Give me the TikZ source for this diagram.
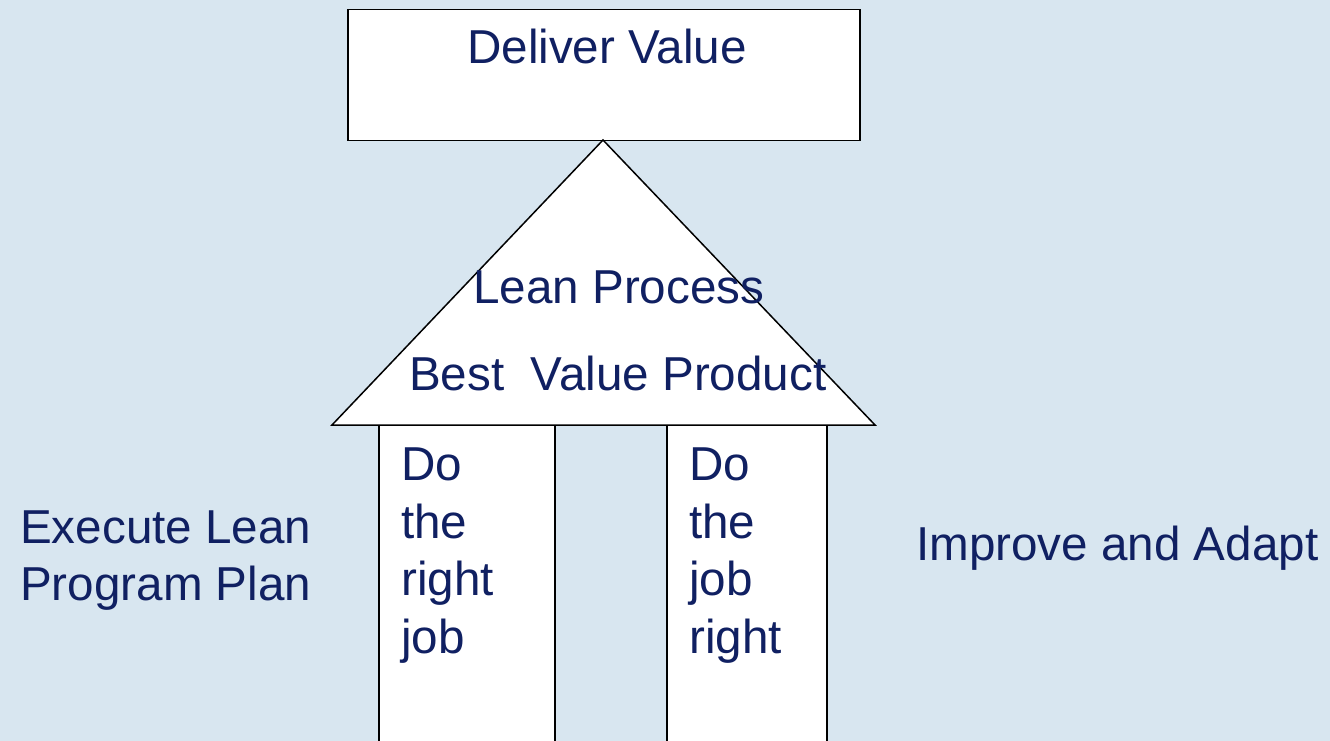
\documentclass[tikz,border=0pt]{standalone}
\usepackage{fontspec}
\setmainfont{Liberation Sans}
\definecolor{bg}{HTML}{D8E6F0}
\definecolor{navy}{HTML}{102062}
\begin{document}
\begin{tikzpicture}[x=1pt,y=-1pt,
  lbl/.style={font=\fontsize{47.6}{57}\selectfont, text=navy, inner sep=0pt, anchor=base west},
  shapeline/.style={draw=black, line width=1.5pt, fill=white}]
\fill[bg] (0,0) rectangle (1330,741);
\useasboundingbox (0,0) rectangle (1330,741);
\clip (0,0) rectangle (1330,741);
% top box
\node[shapeline, minimum width=512pt, minimum height=131pt, anchor=north west, inner sep=0pt] (box) at (347,9) {};
% pillars
\coordinate (apex) at (603,140);
\coordinate (bl) at (332,425);
\coordinate (br) at (875,425);
\filldraw[shapeline] (379,760) -- (379,425) -- (555,425) -- (555,760);
\filldraw[shapeline] (667,760) -- (667,425) -- (827,425) -- (827,760);
% roof
\filldraw[shapeline, line join=miter] (apex) -- (br) -- (bl) -- cycle;
% texts
\node[lbl] (t1) at (467,64) {Deliver Value};
\node[lbl] (t2) at (473,303) {Lean Process};
\node[lbl] (t3) at (409,390) {Best\ \ Value Product};
\node[lbl] (l1) at (401,480) {Do};
\node[lbl] (l2) at (401,538) {the};
\node[lbl] (l3) at (401,595) {right};
\node[lbl] (l4) at (401,653) {job};
\node[lbl] (r1) at (689,480) {Do};
\node[lbl] (r2) at (689,538) {the};
\node[lbl] (r3) at (689,595) {job};
\node[lbl] (r4) at (689,653) {right};
\node[lbl] (e1) at (20,543) {Execute Lean};
\node[lbl] (e2) at (20,600) {Program Plan};
\node[lbl] (ia) at (916,560) {Improve and Adapt};
\end{tikzpicture}
\end{document}
